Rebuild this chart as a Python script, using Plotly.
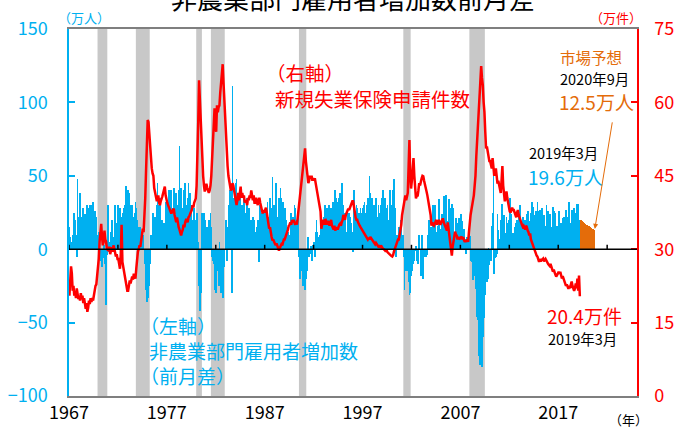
import plotly.graph_objects as go

# ---------------- data ----------------
START_YEAR = 1967

# Non-farm payroll change, month over month (万人), Jan 1967 - Mar 2019
nfp_1960s = [
    15, 8, 5, 2, 10, 18, 25, 20, 10, -5, 48, 22,
    5, 38, 18, 22, 25, 28, 20, 24, 15, 26, 30, 28,
    28, 30, 25, 20, 30, 32, 18, 26, 12, 22, 8, 10,
]
nfp_1970s = [
    12, 5, -2, -8, -12, -6, 3, -10, 0, -38, -4, 30,
    10, -2, 5, 12, 20, 0, 8, 4, 30, 10, 18, 25,
    30, 25, 28, 22, 20, 25, 5, 28, 30, 43, 28, 25,
    40, 38, 30, 15, 25, 30, 12, 22, 25, 32, 28, 20,
    10, 15, 0, 15, 12, 5, 10, 0, -5, -10, -28, -36,
    -33, -30, -25, -10, 10, 5, 15, 25, 20, 22, 10, 30,
    45, 25, 30, 35, 5, 15, 20, 12, 18, 15, 32, 22,
    20, 30, 40, 35, 38, 40, 22, 28, 42, 30, 35, 38,
    22, 30, 40, 70, 35, 42, 28, 25, 30, 40, 45, 30,
    25, 35, 45, 0, 38, 30, 20, 15, 10, 28, 20, 18,
]
nfp_1980s = [
    25, 15, 5, -25, -42, -30, -20, 25, 10, 25, 20, 12,
    15, 10, 15, 20, 0, 25, 15, -5, -8, -10, -20, -28,
    -30, -5, -15, -25, 5, -25, -30, -18, -33, -28, -12, 0,
    20, -8, 15, 30, 28, 40, 42, -30, 111, 30, 35, 40,
    45, 48, 28, 38, 35, 38, 30, 24, 30, 28, 35, 15,
    25, 12, 35, 18, 28, 10, 20, 18, 20, 22, 18, 20,
    12, 8, 15, 20, 10, -9, 30, 18, 25, 20, 22, 25,
    22, 28, 25, 32, 22, 18, 35, 25, 28, 49, 24, 30,
    18, 45, 25, 22, 20, 35, 20, 42, 35, 28, 32, 25,
    28, 25, 20, 15, 12, 10, 8, 5, 25, 12, 22, 10,
]
nfp_1990s = [
    30, 28, 20, 5, 25, -5, -3, -20, -10, -15, -25, -10,
    -25, -28, -20, -15, -8, 8, -5, -3, 2, -2, -8, 3,
    5, -5, 12, 20, 12, 5, 8, 10, 2, 15, 12, 20,
    22, 30, 0, 25, 28, 20, 30, 15, 25, 28, 25, 32,
    25, 20, 40, 35, 30, 32, 35, 28, 38, 20, 45, 30,
    30, 18, 25, 12, 0, 25, 20, 25, 22, 15, 18, 12,
    -2, 40, 25, 18, 30, 28, 20, 25, 22, 28, 25, 20,
    28, 30, 32, 25, 20, 30, 35, 8, 50, 38, 32, 35,
    30, 20, 15, 30, 35, 22, 18, 30, 25, 22, 30, 35,
    20, 40, 15, 35, 25, 28, 30, 20, 12, 40, 25, 30,
]
nfp_2000s = [
    25, 40, 48, 28, 22, -5, 10, 0, 15, 5, 20, 15,
    5, 10, -5, -28, -5, -15, -10, -15, -22, -31, -30, -18,
    -15, -10, -5, -8, -1, 2, -8, 0, -10, 10, 0, -18,
    10, -15, -20, -5, -3, -5, -2, -4, 10, 20, 15, 12,
    15, 5, 30, 25, 30, 8, 4, 12, 16, 34, 6, 13,
    14, 24, 14, 36, 17, 24, 37, 19, 7, 8, 34, 16,
    28, 31, 28, 18, 2, 8, 21, 18, 16, 1, 21, 17,
    24, 9, 19, 7, 14, 7, -3, -2, 8, 8, 11, 9,
    -1, -8, -9, -21, -18, -17, -21, -27, -46, -48, -73, -71,
    -79, -70, -80, -60, -36, -47, -31, -21, -22, -20, 1, -11,
]
nfp_2010s = [
    -2, -8, 16, 25, 52, -17, -6, -5, -3, 24, 13, 7,
    7, 20, 23, 31, 10, 23, 7, 11, 22, 18, 13, 20,
    35, 26, 24, 8, 11, 9, 15, 17, 18, 20, 15, 23,
    19, 30, 14, 19, 22, 18, 11, 20, 16, 24, 26, 5,
    19, 17, 25, 32, 24, 29, 23, 18, 26, 21, 32, 26,
    19, 27, 8, 25, 28, 19, 23, 16, 15, 30, 24, 26,
    14, 24, 21, 15, 2, 29, 26, 17, 25, 12, 16, 16,
    26, 22, 7, 18, 14, 21, 19, 22, 2, 27, 22, 18,
    18, 32, 18, 17, 27, 21, 17, 28, 12, 25, 20, 31,
    31, 3, 19.6,
]

# Market forecast (万人), Apr 2019 - Sep 2020
FC_START = (2019, 4)
forecast = [19.6, 19.5, 19.3, 18.5, 18.0, 17.5, 17.2, 16.8, 16.4,
            16.0, 15.6, 15.2, 14.8, 14.4, 14.0, 13.6, 13.0, 12.5]

# Initial jobless claims (万件), Jan 1967 - Mar 2019
claims_1960s = [
    20.5, 24.0, 26.5, 25.0, 21.5, 22.5, 20.5, 21.5, 20.0, 22.0, 20.5, 19.8,
    20.5, 19.5, 21.0, 19.8, 20.5, 19.0, 20.0, 18.5, 17.8, 19.0, 17.2, 18.0,
    19.5, 18.8, 20.0, 19.2, 20.0, 19.5, 20.8, 21.2, 22.5, 22.8, 24.5, 25.4,
]
claims_1970s = [
    28.0, 31.5, 33.0, 35.2, 32.5, 30.8, 31.5, 33.8, 32.0, 31.5, 30.0, 29.7,
    29.7, 30.5, 29.0, 29.7, 30.4, 29.5, 30.8, 30.2, 29.0, 28.5, 29.0, 28.0,
    28.0, 27.2, 26.0, 29.0, 35.0, 27.4, 26.2, 25.0, 24.0, 23.5, 22.5, 21.5,
    21.5, 22.8, 23.6, 23.0, 24.0, 24.4, 23.8, 25.0, 24.6, 24.0, 26.0, 28.0,
    29.5, 30.0, 30.8, 30.5, 31.5, 32.8, 34.2, 33.5, 36.0, 40.4, 46.0, 51.0,
    56.4, 56.0, 53.5, 50.0, 47.0, 46.5, 45.5, 45.0, 42.5, 41.5, 41.0, 40.0,
    40.0, 41.0, 39.5, 39.0, 39.8, 40.2, 40.8, 41.5, 42.0, 42.8, 41.0, 40.0,
    39.5, 39.0, 38.5, 38.0, 37.5, 37.3, 37.8, 38.0, 38.3, 37.0, 36.0, 35.5,
    36.5, 35.0, 34.5, 34.0, 33.5, 32.8, 33.5, 34.0, 35.0, 34.5, 35.5, 36.0,
    36.0, 35.5, 36.5, 36.7, 37.2, 37.5, 38.0, 39.0, 38.5, 39.5, 40.0, 40.4,
]
claims_1980s = [
    43.0, 48.0, 56.0, 64.5, 60.0, 55.0, 51.0, 47.0, 45.0, 43.0, 41.8, 42.5,
    43.4, 42.5, 42.0, 41.5, 42.0, 43.0, 45.0, 48.0, 51.0, 55.0, 58.8, 55.0,
    54.0, 59.4, 58.0, 59.0, 59.4, 62.0, 64.0, 66.0, 67.8, 64.0, 60.0, 56.0,
    52.0, 49.0, 47.0, 45.0, 44.0, 43.0, 42.0, 42.5, 43.5, 43.0, 42.0, 41.0,
    40.5, 39.0, 40.0, 41.5, 40.0, 42.0, 42.8, 40.5, 41.5, 40.5, 41.0, 39.5,
    40.0, 39.8, 39.0, 40.5, 40.0, 41.0, 40.5, 42.0, 41.0, 40.0, 41.0, 39.5,
    39.5, 40.5, 39.8, 39.0, 40.0, 40.5, 39.5, 38.5, 37.8, 37.3, 38.0, 37.5,
    38.0, 38.5, 37.5, 36.5, 35.5, 34.2, 34.5, 33.0, 32.5, 31.8, 32.0, 31.5,
    31.0, 30.8, 31.2, 30.5, 30.0, 29.7, 30.2, 30.5, 31.0, 30.8, 31.5, 32.0,
    32.0, 32.5, 32.8, 33.5, 34.0, 34.8, 35.0, 35.5, 35.0, 36.0, 35.5, 36.0,
]
claims_1990s = [
    35.5, 35.0, 35.6, 35.0, 36.5, 38.0, 39.0, 41.0, 42.5, 44.0, 46.0, 47.5,
    49.0, 50.6, 48.0, 46.0, 44.5, 43.5, 44.0, 45.0, 44.5, 45.0, 44.0, 44.5,
    44.0, 44.5, 43.5, 42.5, 42.0, 41.0, 40.0, 38.5, 37.7, 34.2, 35.5, 36.0,
    35.5, 35.0, 36.2, 35.5, 35.0, 35.8, 35.2, 34.8, 35.5, 36.0, 34.8, 34.5,
    34.0, 34.8, 33.8, 34.2, 34.5, 34.0, 34.8, 35.0, 35.2, 34.8, 35.5, 36.0,
    37.0, 36.5, 36.0, 37.0, 37.5, 38.0, 38.3, 38.0, 38.5, 39.0, 39.5, 39.8,
    39.8, 38.5, 37.5, 36.5, 36.0, 36.0, 35.5, 35.0, 34.8, 34.5, 34.2, 33.8,
    33.5, 33.2, 33.0, 32.8, 32.5, 32.2, 32.0, 32.3, 32.0, 32.5, 32.2, 32.0,
    31.8, 31.5, 31.2, 31.0, 31.3, 31.0, 30.8, 30.5, 30.5, 30.8, 30.3, 30.5,
    30.2, 30.1, 30.0, 29.8, 29.5, 29.8, 29.4, 29.2, 29.1, 29.0, 28.8, 28.6,
]
claims_2000s = [
    28.5, 28.8, 29.5, 30.0, 30.8, 31.0, 31.5, 32.0, 32.0, 32.8, 33.5, 35.0,
    37.0, 38.0, 39.0, 40.0, 41.0, 40.0, 41.0, 41.5, 47.0, 52.3, 45.0, 42.4,
    44.0, 46.5, 48.6, 45.0, 42.0, 40.4, 41.0, 40.8, 42.0, 43.5, 43.0, 44.0,
    44.5, 45.0, 44.9, 44.0, 43.0, 42.5, 41.8, 41.0, 40.0, 39.5, 38.3, 37.0,
    34.8, 35.5, 35.0, 34.8, 35.2, 35.6, 36.0, 35.0, 35.5, 36.0, 35.5, 35.0,
    35.5, 36.0, 36.3, 35.5, 35.0, 34.5, 34.0, 33.8, 35.5, 34.0, 33.0, 31.0,
    29.5, 28.7, 30.5, 31.5, 32.5, 33.6, 33.0, 32.8, 32.0, 32.5, 32.0, 32.2,
    32.2, 32.6, 32.0, 32.5, 31.8, 31.5, 31.8, 31.5, 32.0, 31.5, 33.5, 36.0,
    37.0, 38.0, 39.0, 40.4, 41.0, 43.0, 45.0, 49.0, 52.0, 55.0, 58.0, 62.0,
    63.0, 67.4, 65.0, 63.5, 60.0, 58.0, 54.0, 50.6, 51.0, 50.0, 49.0, 48.0,
]
claims_2010s = [
    48.0, 47.0, 46.5, 48.6, 47.0, 45.0, 46.0, 46.5, 45.0, 43.4, 44.0, 43.0,
    42.4, 41.5, 44.0, 47.0, 43.0, 41.5, 39.8, 40.5, 41.8, 40.5, 39.5, 38.5,
    37.7, 37.5, 38.0, 38.5, 38.0, 38.0, 37.5, 37.0, 36.5, 37.5, 38.0, 37.0,
    36.3, 36.0, 35.5, 35.0, 34.6, 34.8, 34.2, 34.0, 34.8, 34.5, 33.8, 33.5,
    32.8, 33.2, 32.0, 31.5, 31.1, 30.5, 30.0, 29.5, 29.0, 28.7, 28.5, 28.0,
    27.4, 28.0, 27.5, 27.8, 28.0, 28.1, 27.5, 27.8, 28.0, 27.7, 27.2, 27.0,
    26.8, 26.6, 27.0, 26.5, 26.0, 25.4, 25.8, 25.0, 24.8, 24.4, 24.6, 25.0,
    25.4, 25.0, 25.4, 24.5, 24.0, 24.5, 24.0, 23.5, 23.0, 22.5, 22.8, 22.2,
    21.9, 22.5, 22.0, 22.8, 23.4, 22.5, 22.0, 21.5, 22.0, 23.0, 22.0, 24.0,
    21.5, 24.6, 20.4,
]

# NBER recessions (start, end) as decimal years
rec_start = [1969 + 11/12, 1973 + 10/12, 1980.0, 1981.5, 1990.5, 2001 + 2/12, 2007 + 11/12]
rec_end = [1970 + 11/12, 1975 + 3/12, 1980 + 7/12, 1982 + 11/12, 1991 + 3/12, 2001 + 11/12, 2009.5]

x_tick_years = [1967, 1977, 1987, 1997, 2007, 2017]
minor_tick_years = list(range(1967, 2025, 5))
left_ticks = [-100, -50, 0, 50, 100, 150]
right_ticks = [0, 15, 30, 45, 60, 75]

# ---------------- build ----------------
nfp = nfp_1960s + nfp_1970s + nfp_1980s + nfp_1990s + nfp_2000s + nfp_2010s
claims = claims_1960s + claims_1970s + claims_1980s + claims_1990s + claims_2000s + claims_2010s


def month_x(n, y0=START_YEAR, m0=1):
    return [y0 + (m0 - 1 + i) / 12 + 1 / 24 for i in range(n)]


x_nfp = month_x(len(nfp))
x_claims = month_x(len(claims))
x_fc = month_x(len(forecast), FC_START[0], FC_START[1])

BLUE = '#00B0F0'
RED = '#FF0000'
ORANGE = '#E46C0A'
FONT = 'Noto Sans CJK JP'

fig = go.Figure()
fig.add_trace(go.Bar(x=x_nfp, y=nfp, width=1/12, marker=dict(color=BLUE, line=dict(width=0)),
                     yaxis='y', showlegend=False))
fig.add_trace(go.Bar(x=x_fc, y=forecast, width=1/12, marker=dict(color=ORANGE, line=dict(width=0)),
                     yaxis='y', showlegend=False))
fig.add_trace(go.Scatter(x=x_claims, y=claims, mode='lines', yaxis='y2',
                         line=dict(color=RED, width=2.5), showlegend=False))

shapes = []
for s, e in zip(rec_start, rec_end):
    shapes.append(dict(type='rect', xref='x', yref='paper', x0=s, x1=e, y0=0, y1=1,
                       fillcolor='#C8C8C8', line=dict(width=0), layer='below'))
shapes.append(dict(type='line', xref='paper', yref='y', x0=0, x1=1, y0=0, y1=0,
                   line=dict(color='black', width=1.5), layer='above'))
for t in minor_tick_years:
    shapes.append(dict(type='line', xref='x', yref='y', x0=t, x1=t, y0=0, y1=3,
                       line=dict(color='black', width=1.5), layer='above'))


def ann(text, x, y, color, size, xanchor='left'):
    return dict(text=text, x=x, y=y, xref='paper', yref='paper', showarrow=False,
                xanchor=xanchor, yanchor='middle', font=dict(color=color, size=size, family=FONT))


PL, PR, PT, PB = 69, 637, 28.5, 396


def px(xp):
    return (xp - PL) / (PR - PL)


def py(yp):
    return (PB - yp) / (PB - PT)


annotations = [
    ann('（右軸）', px(264), py(72), RED, 19.5),
    ann('新規失業保険申請件数', px(273), py(98), RED, 19.5),
    ann('（左軸）', px(138), py(325), BLUE, 19),
    ann('非農業部門雇用者増加数', px(147), py(350), BLUE, 19),
    ann('（前月差）', px(138), py(375), BLUE, 19),
    ann('市場予想', px(558), py(57), ORANGE, 15.5),
    ann('2020年9月', px(558), py(78), 'black', 14.5),
    ann('12.5万人', px(557), py(101), ORANGE, 19),
    ann('2019年3月', px(527), py(152), 'black', 14.5),
    ann('19.6万人', px(526), py(176), BLUE, 19),
    ann('20.4万件', px(545), py(315), RED, 19),
    ann('2019年3月', px(546), py(338), 'black', 14.5),
    ann('（万人）', px(84), py(17), BLUE, 13, 'center'),
    ann('（万件）', px(616), py(17), RED, 13, 'center'),
    ann('（年）', px(628), py(420), 'black', 13, 'center'),
    dict(text='', x=x_fc[-1], y=forecast[-1], xref='x', yref='y', showarrow=True,
         ax=18, ay=-110, arrowhead=2, arrowsize=1, arrowwidth=1, arrowcolor=ORANGE, standoff=2),
]

fig.update_layout(
    width=675, height=429,
    margin=dict(l=PL, r=675 - PR, t=PT, b=429 - PB, autoexpand=False),
    paper_bgcolor='white', plot_bgcolor='white',
    barmode='overlay', bargap=0,
    font=dict(family=FONT, color='black'),
    title=dict(text='非農業部門雇用者増加数前月差', x=0.5, xref='paper', xanchor='center',
               y=1.0, yref='container', yanchor='middle', automargin=False,
               font=dict(size=26, color='black', family=FONT)),
    xaxis=dict(range=[1967, 2025.05], tickvals=x_tick_years, ticktext=[str(v) for v in x_tick_years],
               showline=True, linecolor='#7F7F7F', linewidth=1.5, mirror=True, ticks='',
               showgrid=False, zeroline=False, automargin=False,
               tickfont=dict(size=18, color='black')),
    yaxis=dict(range=[-100, 150], tickvals=left_ticks, ticks='inside', ticklen=6, tickwidth=1.5,
               tickcolor=BLUE, showline=True, linecolor=BLUE, linewidth=1.5, showgrid=False,
               zeroline=False, automargin=False, tickfont=dict(size=18, color=BLUE),
               ticklabelstandoff=16),
    yaxis2=dict(range=[0, 75], tickvals=right_ticks, overlaying='y', side='right', ticks='inside',
                ticklen=6, tickwidth=1.5, tickcolor=RED, showline=True, linecolor=RED, linewidth=1.5,
                showgrid=False, zeroline=False, automargin=False, tickfont=dict(size=18, color=RED),
                ticklabelstandoff=12),
    shapes=shapes,
    annotations=annotations,
)

fig.write_html('out.html', config={'displayModeBar': False},
               post_script="document.body.style.margin='0';document.body.style.padding='0';")
